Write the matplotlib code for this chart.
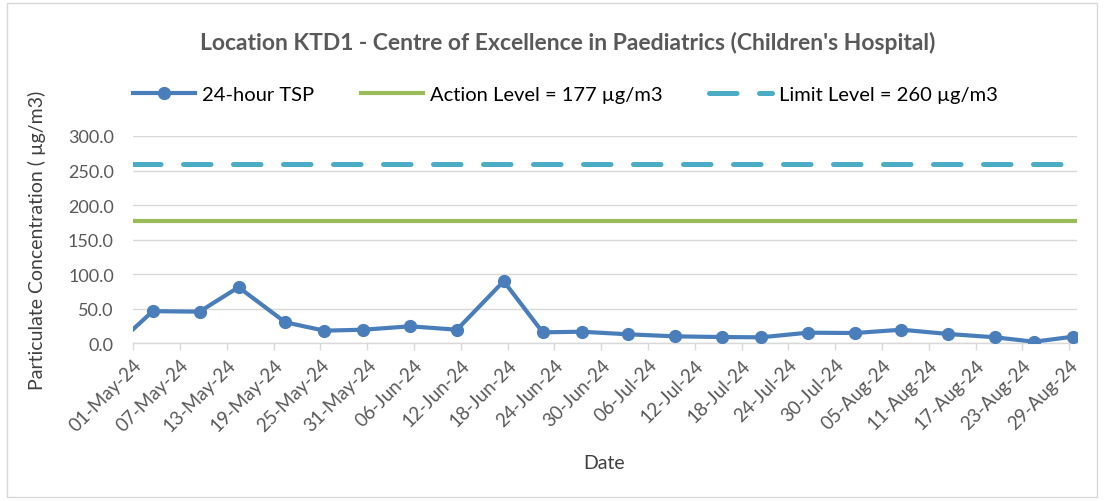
import matplotlib
matplotlib.use('Agg')
import matplotlib.pyplot as plt
from matplotlib.patches import Rectangle
import pandas as pd

# данные
dates = ['2024-04-29', '2024-05-03', '2024-05-09', '2024-05-14', '2024-05-20', '2024-05-25',
         '2024-05-30', '2024-06-05', '2024-06-11', '2024-06-17', '2024-06-22', '2024-06-27',
         '2024-07-03', '2024-07-09', '2024-07-15', '2024-07-20', '2024-07-26', '2024-08-01',
         '2024-08-07', '2024-08-13', '2024-08-19', '2024-08-24', '2024-08-29']
tsp = [5.0, 46.5, 45.8, 81.2, 30.4, 18.3,
       19.7, 24.6, 19.7, 89.9, 15.9, 16.8,
       13.0, 10.1, 9.1, 8.7, 15.4, 14.9,
       19.7, 13.5, 8.7, 2.3, 9.6]
action_level = 177
limit_level = 260
x_start = '2024-05-01'
x_end = '2024-08-30'

plt.rcParams['font.family'] = ['Lato', 'DejaVu Sans']

fig = plt.figure(figsize=(11.04, 5.02), dpi=100)
ax = fig.add_axes([0.1207, 0.3141, 0.9755 - 0.1207, 0.7271 - 0.3141])

# точки стоят в середине суток, как в Excel
x = pd.to_datetime(dates) + pd.Timedelta(hours=12)
xlim = (pd.Timestamp(x_start), pd.Timestamp(x_end))

ax.plot(x, tsp, color='#4A7EBB', lw=3.0, marker='o', ms=8.5,
        solid_joinstyle='round', label='24-hour TSP', zorder=4)
ax.plot(xlim, [action_level] * 2, color='#9BBB59', lw=3.0,
        label='Action Level = 177 µg/m3', zorder=3)
ax.plot(xlim, [limit_level] * 2, color='#4BACC6', lw=3.6, ls=(0, (5.5, 4.5)),
        dash_capstyle='round', label='Limit Level = 260 µg/m3', zorder=3)

ax.set_xlim(xlim)
ax.set_ylim(0, 300)
ax.set_yticks(range(0, 301, 50))
ax.yaxis.set_major_formatter(plt.FuncFormatter(lambda v, p: '%.1f' % v))
ticks = pd.date_range(x_start, x_end, freq='6D')
ax.set_xticks(ticks)
ax.set_xticklabels([t.strftime('%d-%b-%y') for t in ticks], rotation=45,
                   ha='right', rotation_mode='anchor')

ax.grid(axis='y', color='#D9D9D9', lw=1.0)
ax.set_axisbelow(True)
for s in ['top', 'right', 'left']:
    ax.spines[s].set_visible(False)
ax.spines['bottom'].set_color('#D9D9D9')
ax.spines['bottom'].set_linewidth(1.0)
ax.tick_params(axis='y', length=0, pad=14, labelsize=13, labelcolor='#595959')
ax.tick_params(axis='x', length=5, color='#D9D9D9', width=1.0, pad=4,
               labelsize=13.5, labelcolor='#595959')

ax.set_ylabel('Particulate Concentration ( µg/m3)', fontsize=14, color='#404040')
ax.yaxis.set_label_coords(-0.092, 0.5)
fig.text(0.547, 0.077, 'Date', ha='center', va='center', fontsize=14, color='#404040')

fig.text(0.514, 0.915, "Location KTD1 - Centre of Excellence in Paediatrics (Children's Hospital)",
         ha='center', va='center', fontsize=16.5, fontweight='bold', color='#595959')

fig.legend(loc='center', bbox_to_anchor=(0.512, 0.81), ncol=3, frameon=False,
           fontsize=14.5, handlelength=3.1, columnspacing=2.3, handletextpad=0.35)

fig.patches.append(Rectangle((0.006, 0.008), 0.988, 0.984, transform=fig.transFigure,
                             fill=False, edgecolor='#D9D9D9', lw=1.0))

fig.savefig('out.png', dpi=100)
